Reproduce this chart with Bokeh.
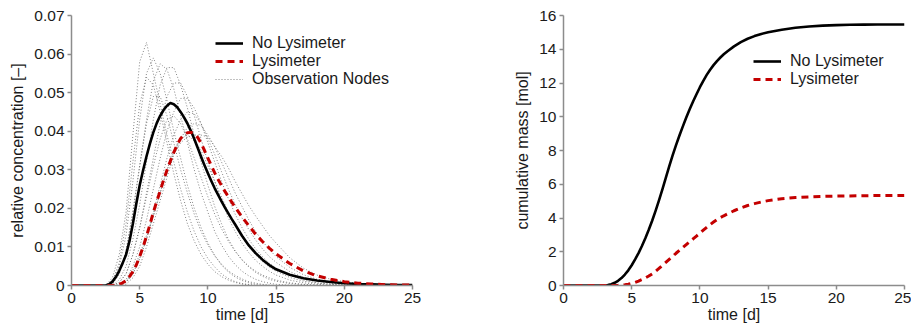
from bokeh.plotting import figure
from bokeh.layouts import row
from bokeh.models import Range1d, Legend, LegendItem, CustomJSTickFormatter, FixedTicker
from bokeh.embed import file_html
from bokeh.resources import INLINE

# ---------------- data ----------------
X_TICKS = [0, 5, 10, 15, 20, 25]
Y_TICKS_CONC = [0, 0.01, 0.02, 0.03, 0.04, 0.05, 0.06, 0.07]
Y_TICKS_MASS = [0, 2, 4, 6, 8, 10, 12, 14, 16]

SERIES_NAMES = ["No Lysimeter", "Lysimeter", "Observation Nodes"]

T_MAIN = [0, 1, 2,
          2.5, 2.75, 3, 3.25, 3.5, 3.75, 4, 4.25,
          4.5, 4.75, 5, 5.25, 5.5, 5.75, 6, 6.25,
          6.5, 6.75, 7, 7.25, 7.5, 7.75, 8, 8.25,
          8.5, 8.75, 9, 9.25, 9.5, 9.75, 10, 10.25,
          10.5, 10.75, 11, 11.25, 11.5, 11.75, 12,
          12.5, 13, 13.5, 14, 14.5, 15,
          16, 17, 18, 19, 20, 21, 22, 23, 24, 25]

CONC_NO_LYS = [0, 0, 0,
               0, 0.0003, 0.001, 0.0022, 0.0038, 0.0058, 0.008, 0.0115,
               0.016, 0.0212, 0.026, 0.0299, 0.0335, 0.0368, 0.0397, 0.0421,
               0.044, 0.0455, 0.0466, 0.0473, 0.047, 0.0462, 0.045, 0.0436,
               0.042, 0.0401, 0.038, 0.0357, 0.0334, 0.0312, 0.0291, 0.0271,
               0.0252, 0.0235, 0.0218, 0.0202, 0.0187, 0.0172, 0.0158,
               0.0129, 0.0104, 0.0084, 0.0067, 0.0053, 0.0042,
               0.0028, 0.0019, 0.0013, 0.0009, 0.0006, 0.0004, 0.0003, 0.0002, 0.0001, 0.0001]

CONC_LYS = [0, 0, 0,
            0, 0, 0, 0.0001, 0.0003, 0.0007, 0.0013, 0.0023,
            0.0036, 0.0053, 0.0075, 0.010, 0.0128, 0.0158, 0.019, 0.0218,
            0.0245, 0.0273, 0.0299, 0.0323, 0.0345, 0.0365, 0.0381, 0.0391,
            0.0396, 0.0397, 0.0393, 0.0384, 0.0369, 0.035, 0.033, 0.0311,
            0.0292, 0.0275, 0.0259, 0.0244, 0.023, 0.0216, 0.0203,
            0.0178, 0.0155, 0.0133, 0.0114, 0.0097, 0.0082,
            0.0057, 0.0038, 0.0025, 0.0016, 0.001, 0.0006, 0.0004, 0.0002, 0.0001, 0.0001]

MASS_NO_LYS = [0, 0, 0,
               0, 0, 0.01, 0.03, 0.08, 0.16, 0.28, 0.44,
               0.65, 0.9, 1.2, 1.55, 1.92, 2.34, 2.8, 3.3,
               3.84, 4.42, 5.04, 5.7, 6.38, 7.06, 7.71, 8.32,
               8.89, 9.43, 9.95, 10.44, 10.9, 11.33, 11.75, 12.13,
               12.48, 12.79, 13.06, 13.3, 13.51, 13.7, 13.87,
               14.17, 14.42, 14.62, 14.78, 14.91, 15.01,
               15.16, 15.27, 15.35, 15.4, 15.43, 15.45, 15.46, 15.47, 15.47, 15.47]

MASS_LYS = [0, 0, 0,
            0, 0, 0, 0, 0, 0.005, 0.01, 0.02,
            0.04, 0.07, 0.12, 0.18, 0.26, 0.35, 0.45, 0.56,
            0.69, 0.84, 1.01, 1.19, 1.37, 1.55, 1.73, 1.91,
            2.08, 2.25, 2.42, 2.59, 2.76, 2.93, 3.1, 3.28,
            3.45, 3.61, 3.76, 3.9, 4.02, 4.13, 4.23,
            4.43, 4.6, 4.74, 4.85, 4.95, 5.03,
            5.14, 5.21, 5.25, 5.28, 5.3, 5.31, 5.32, 5.33, 5.33, 5.34]

T_OBS = [0, 1, 2, 2.5,
         3, 3.5, 4, 4.5, 5, 5.5, 6, 6.5, 7, 7.5,
         8, 8.5, 9, 9.5, 10, 10.5, 11, 11.5, 12, 12.5,
         13, 13.5, 14, 14.5, 15,
         16, 17, 18, 19, 20, 21, 22,
         25]

OBS_01 = [0, 0, 0, 0,
          0.002, 0.008, 0.019, 0.039, 0.058, 0.063, 0.055, 0.047, 0.039, 0.032,
          0.025, 0.019, 0.014, 0.010, 0.007, 0.0048, 0.003, 0.0018, 0.001, 0.0005,
          0.0002, 0, 0, 0, 0,
          0, 0, 0, 0, 0, 0, 0,
          0]
OBS_02 = [0, 0, 0, 0,
          0.001, 0.005, 0.013, 0.027, 0.043, 0.055, 0.059, 0.055, 0.048, 0.040,
          0.033, 0.026, 0.020, 0.015, 0.011, 0.0078, 0.0053, 0.0035, 0.0022, 0.0013,
          0.0007, 0.0003, 0.0001, 0, 0,
          0, 0, 0, 0, 0, 0, 0,
          0]
OBS_03 = [0, 0, 0, 0,
          0.0005, 0.003, 0.009, 0.019, 0.031, 0.043, 0.053, 0.0575, 0.056, 0.051,
          0.044, 0.037, 0.030, 0.024, 0.019, 0.014, 0.0105, 0.0076, 0.0054, 0.0037,
          0.0025, 0.0016, 0.001, 0.0006, 0.0003,
          0.0001, 0, 0, 0, 0, 0, 0,
          0]
OBS_04 = [0, 0, 0, 0,
          0, 0.0015, 0.005, 0.012, 0.021, 0.032, 0.043, 0.052, 0.0565, 0.0565,
          0.052, 0.046, 0.039, 0.032, 0.026, 0.0205, 0.016, 0.012, 0.009, 0.0066,
          0.0048, 0.0034, 0.0024, 0.0016, 0.0011,
          0.0005, 0.0002, 0, 0, 0, 0, 0,
          0]
OBS_05 = [0, 0, 0, 0,
          0, 0.0008, 0.003, 0.008, 0.015, 0.024, 0.033, 0.042, 0.049, 0.0525,
          0.0525, 0.049, 0.044, 0.038, 0.032, 0.027, 0.022, 0.0175, 0.014, 0.011,
          0.0085, 0.0065, 0.005, 0.0037, 0.0027,
          0.0014, 0.0007, 0.0003, 0.0001, 0, 0, 0,
          0]
OBS_06 = [0, 0, 0, 0,
          0, 0.0003, 0.0015, 0.005, 0.010, 0.017, 0.025, 0.033, 0.040, 0.045,
          0.0485, 0.0485, 0.046, 0.042, 0.037, 0.032, 0.027, 0.0225, 0.0185, 0.015,
          0.012, 0.0095, 0.0075, 0.0058, 0.0045,
          0.0026, 0.0014, 0.0007, 0.0003, 0.0001, 0, 0,
          0]
OBS_07 = [0, 0, 0, 0,
          0, 0, 0.0008, 0.003, 0.007, 0.012, 0.019, 0.026, 0.033, 0.039,
          0.043, 0.045, 0.0445, 0.042, 0.038, 0.034, 0.0295, 0.025, 0.021, 0.0175,
          0.0145, 0.0118, 0.0095, 0.0075, 0.006,
          0.0036, 0.0021, 0.0012, 0.0006, 0.0003, 0.0001, 0,
          0]
OBS_08 = [0, 0, 0, 0,
          0, 0, 0.0003, 0.002, 0.005, 0.010, 0.016, 0.022, 0.028, 0.034,
          0.038, 0.041, 0.042, 0.0415, 0.039, 0.036, 0.032, 0.028, 0.024, 0.0205,
          0.017, 0.014, 0.0115, 0.0093, 0.0075,
          0.0047, 0.0028, 0.0016, 0.0009, 0.0005, 0.0002, 0.0001,
          0]
OBS_09 = [0, 0, 0, 0,
          0, 0, 0.001, 0.004, 0.008, 0.013, 0.018, 0.024, 0.030, 0.034,
          0.037, 0.0385, 0.039, 0.039, 0.0385, 0.036, 0.0335, 0.0305, 0.027, 0.0238,
          0.0207, 0.018, 0.0155, 0.013, 0.011,
          0.0072, 0.0045, 0.0027, 0.0016, 0.001, 0.0006, 0.0003,
          0]
OBS_10 = [0, 0, 0, 0,
          0.0003, 0.003, 0.009, 0.019, 0.031, 0.042, 0.049, 0.049, 0.044, 0.037,
          0.030, 0.024, 0.0185, 0.014, 0.0105, 0.0077, 0.0055, 0.0038, 0.0026, 0.0017,
          0.001, 0.0006, 0.0003, 0.0001, 0,
          0, 0, 0, 0, 0, 0, 0,
          0]
OBS_11 = [0, 0, 0, 0,
          0, 0.0008, 0.003, 0.008, 0.015, 0.023, 0.031, 0.038, 0.043, 0.044,
          0.042, 0.038, 0.033, 0.028, 0.023, 0.0185, 0.0147, 0.0115, 0.0088, 0.0067,
          0.005, 0.0037, 0.0027, 0.002, 0.0014,
          0.0007, 0.0003, 0.0001, 0, 0, 0, 0,
          0]
OBS_12 = [0, 0, 0, 0,
          0, 0, 0.0008, 0.003, 0.007, 0.012, 0.018, 0.024, 0.030, 0.035,
          0.038, 0.039, 0.0375, 0.035, 0.031, 0.027, 0.023, 0.019, 0.0156, 0.0126,
          0.010, 0.0079, 0.0062, 0.0048, 0.0037,
          0.0021, 0.0011, 0.0006, 0.0003, 0.0001, 0, 0,
          0]
OBS_13 = [0, 0, 0, 0,
          0.001, 0.006, 0.016, 0.032, 0.047, 0.054, 0.052, 0.045, 0.037, 0.029,
          0.022, 0.016, 0.0115, 0.008, 0.0055, 0.0036, 0.0023, 0.0014, 0.0008, 0.0004,
          0.0002, 0, 0, 0, 0,
          0, 0, 0, 0, 0, 0, 0,
          0]

OBS_NODES = [OBS_01, OBS_02, OBS_03, OBS_04, OBS_05, OBS_06, OBS_07,
             OBS_08, OBS_09, OBS_10, OBS_11, OBS_12, OBS_13]

# ---------------- styling ----------------
FONT = "Liberation Sans"
FS = "16px"
FS_TICK = "15.5px"
AXIS_GRAY = "#8c8c8c"
TEXT_COLOR = "#1a1a1a"
RED = "#c40000"


def style(p, xlabel, ylabel):
    p.xgrid.visible = False
    p.ygrid.visible = False
    p.outline_line_color = None
    p.background_fill_color = "white"
    p.border_fill_color = "white"
    p.xaxis.axis_label = xlabel
    p.yaxis.axis_label = ylabel
    for ax in (p.xaxis[0], p.yaxis[0]):
        ax.axis_line_color = AXIS_GRAY
        ax.axis_line_width = 1.5
        ax.major_tick_line_color = AXIS_GRAY
        ax.major_tick_line_width = 1.5
        ax.major_tick_in = 0
        ax.major_tick_out = 4
        ax.minor_tick_line_color = None
        ax.major_label_text_font = FONT
        ax.major_label_text_font_size = FS_TICK
        ax.major_label_text_color = TEXT_COLOR
        ax.axis_label_text_font = FONT
        ax.axis_label_text_font_size = FS
        ax.axis_label_text_font_style = "normal"
        ax.axis_label_text_color = TEXT_COLOR
    p.xaxis[0].major_label_standoff = 3
    p.xaxis[0].axis_label_standoff = 0
    p.yaxis[0].major_label_standoff = 3
    p.yaxis[0].axis_label_standoff = 5
    p.xaxis[0].ticker = FixedTicker(ticks=X_TICKS)


def style_legend(leg, x, y):
    leg.location = (x, y)
    leg.background_fill_alpha = 0
    leg.border_line_color = None
    leg.padding = 0
    leg.margin = 0
    leg.spacing = 0
    leg.glyph_width = 28
    leg.glyph_height = 18
    leg.label_height = 18
    leg.label_standoff = 9
    leg.label_text_font = FONT
    leg.label_text_font_size = FS
    leg.label_text_color = TEXT_COLOR


# ---------------- left: concentration ----------------
p1 = figure(width=460, height=328, output_backend="svg", toolbar_location=None,
            x_range=Range1d(0, 25), y_range=Range1d(0, 0.07),
            min_border_left=71, min_border_right=48, min_border_top=15, min_border_bottom=43)
style(p1, "time [d]", "relative concentration [–]")
p1.yaxis[0].ticker = FixedTicker(ticks=Y_TICKS_CONC)
p1.yaxis[0].formatter = CustomJSTickFormatter(code="return tick == 0 ? '0' : tick.toFixed(2);")

obs_renderers = []
for series in OBS_NODES:
    r = p1.line(T_OBS, series, line_color="#6e6e6e", line_width=1, line_dash="1 2", line_alpha=0.85)
    obs_renderers.append(r)
r_no = p1.line(T_MAIN, CONC_NO_LYS, line_color="black", line_width=2.6, line_join="round")
r_ly = p1.line(T_MAIN, CONC_LYS, line_color=RED, line_width=3, line_dash="7 5", line_join="round")

leg1 = Legend(items=[LegendItem(label=SERIES_NAMES[0], renderers=[r_no]),
                     LegendItem(label=SERIES_NAMES[1], renderers=[r_ly]),
                     LegendItem(label=SERIES_NAMES[2], renderers=[obs_renderers[0]])])
style_legend(leg1, 144, 197)
p1.add_layout(leg1)

# ---------------- right: cumulative mass ----------------
p2 = figure(width=451, height=328, output_backend="svg", toolbar_location=None,
            x_range=Range1d(0, 25), y_range=Range1d(0, 16),
            min_border_left=103, min_border_right=7, min_border_top=15, min_border_bottom=43)
style(p2, "time [d]", "cumulative mass [mol]")
p2.yaxis[0].ticker = FixedTicker(ticks=Y_TICKS_MASS)

m_no = p2.line(T_MAIN, MASS_NO_LYS, line_color="black", line_width=2.6, line_join="round")
m_ly = p2.line(T_MAIN, MASS_LYS, line_color=RED, line_width=3, line_dash="7 5", line_join="round")

leg2 = Legend(items=[LegendItem(label=SERIES_NAMES[0], renderers=[m_no]),
                     LegendItem(label=SERIES_NAMES[1], renderers=[m_ly])])
style_legend(leg2, 190, 197)
p2.add_layout(leg2)

layout = row(p1, p2, spacing=0)
open("out.html", "w").write(file_html(layout, INLINE))
